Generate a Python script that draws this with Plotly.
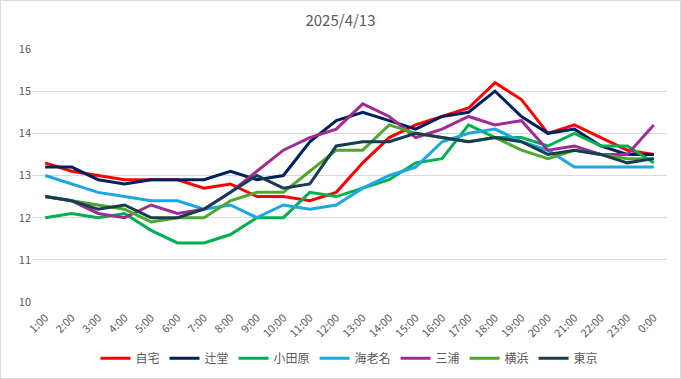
import plotly.graph_objects as go

hours = ["1:00", "2:00", "3:00", "4:00", "5:00", "6:00", "7:00", "8:00", "9:00", "10:00",
         "11:00", "12:00", "13:00", "14:00", "15:00", "16:00", "17:00", "18:00", "19:00",
         "20:00", "21:00", "22:00", "23:00", "0:00"]

jitaku = [13.3, 13.1, 13.0, 12.9, 12.9, 12.9, 12.7, 12.8, 12.5, 12.5, 12.4, 12.6, 13.3, 13.9,
          14.2, 14.4, 14.6, 15.2, 14.8, 14.0, 14.2, 13.9, 13.6, 13.5]
tsujido = [13.2, 13.2, 12.9, 12.8, 12.9, 12.9, 12.9, 13.1, 12.9, 13.0, 13.8, 14.3, 14.5, 14.3,
           14.1, 14.4, 14.5, 15.0, 14.4, 14.0, 14.1, 13.7, 13.5, 13.5]
odawara = [12.0, 12.1, 12.0, 12.1, 11.7, 11.4, 11.4, 11.6, 12.0, 12.0, 12.6, 12.5, 12.7, 12.9,
           13.3, 13.4, 14.2, 13.9, 13.9, 13.7, 14.0, 13.7, 13.7, 13.3]
ebina = [13.0, 12.8, 12.6, 12.5, 12.4, 12.4, 12.2, 12.3, 12.0, 12.3, 12.2, 12.3, 12.7, 13.0,
         13.2, 13.8, 14.0, 14.1, 13.8, 13.6, 13.2, 13.2, 13.2, 13.2]
miura = [12.5, 12.4, 12.1, 12.0, 12.3, 12.1, 12.2, 12.6, 13.1, 13.6, 13.9, 14.1, 14.7, 14.4,
         13.9, 14.1, 14.4, 14.2, 14.3, 13.6, 13.7, 13.5, 13.5, 14.2]
yokohama = [12.5, 12.4, 12.3, 12.2, 11.9, 12.0, 12.0, 12.4, 12.6, 12.6, 13.1, 13.6, 13.6, 14.2,
            14.0, 13.9, 13.8, 13.9, 13.6, 13.4, 13.6, 13.5, 13.4, 13.4]
tokyo = [12.5, 12.4, 12.2, 12.3, 12.0, 12.0, 12.2, 12.6, 13.0, 12.7, 12.8, 13.7, 13.8, 13.8,
         14.0, 13.9, 13.8, 13.9, 13.8, 13.5, 13.6, 13.5, 13.3, 13.4]

series = [
    ("自宅", jitaku, "#FF0000"),
    ("辻堂", tsujido, "#002060"),
    ("小田原", odawara, "#00B050"),
    ("海老名", ebina, "#1CA7E0"),
    ("三浦", miura, "#A02B93"),
    ("横浜", yokohama, "#4EA72E"),
    ("東京", tokyo, "#163E50"),
]

fig = go.Figure()
for name, vals, color in series:
    fig.add_trace(go.Scatter(x=hours, y=vals, name=name, mode="lines",
                             line=dict(color=color, width=3)))

W, H = 681, 379
l, r, t, b = 32, 14, 49, 77
pw, ph = W - l - r, H - t - b

fig.update_layout(
    width=W, height=H,
    margin=dict(l=l, r=r, t=t, b=b, autoexpand=False),
    paper_bgcolor="white", plot_bgcolor="white",
    font=dict(family="Noto Sans CJK JP, Noto Sans, sans-serif", color="#595959", size=11),
    title=dict(text="2025/4/13", x=0.5, xanchor="center", y=0.945, yanchor="middle",
               font=dict(size=15, color="#595959")),
    showlegend=True,
    legend=dict(orientation="h", x=0.5, xanchor="center", y=-0.222, yanchor="middle",
                font=dict(size=12, color="#595959"), itemwidth=30, tracegroupgap=0),
    xaxis=dict(type="category", range=[-0.5, 23.5], tickangle=-45, showgrid=False,
               showline=False, zeroline=False, ticks="outside", ticklen=4,
               tickcolor="rgba(0,0,0,0)", tickfont=dict(size=11), automargin=False),
    yaxis=dict(range=[10, 16], dtick=1, showgrid=True, gridcolor="#D9D9D9", gridwidth=1,
               zeroline=False, showline=False, ticks="", tickfont=dict(size=11),
               automargin=False),
)

# chart-area border
fig.add_shape(type="rect", xref="paper", yref="paper",
              x0=(0.5 - l) / pw, x1=(W - 0.5 - l) / pw,
              y0=-(b - 0.5) / ph, y1=1 + (t - 0.5) / ph,
              line=dict(color="#D9D9D9", width=1), layer="below")

fig.write_html("out.html", config={"displayModeBar": False},
               post_script="document.body.style.margin='0';")
